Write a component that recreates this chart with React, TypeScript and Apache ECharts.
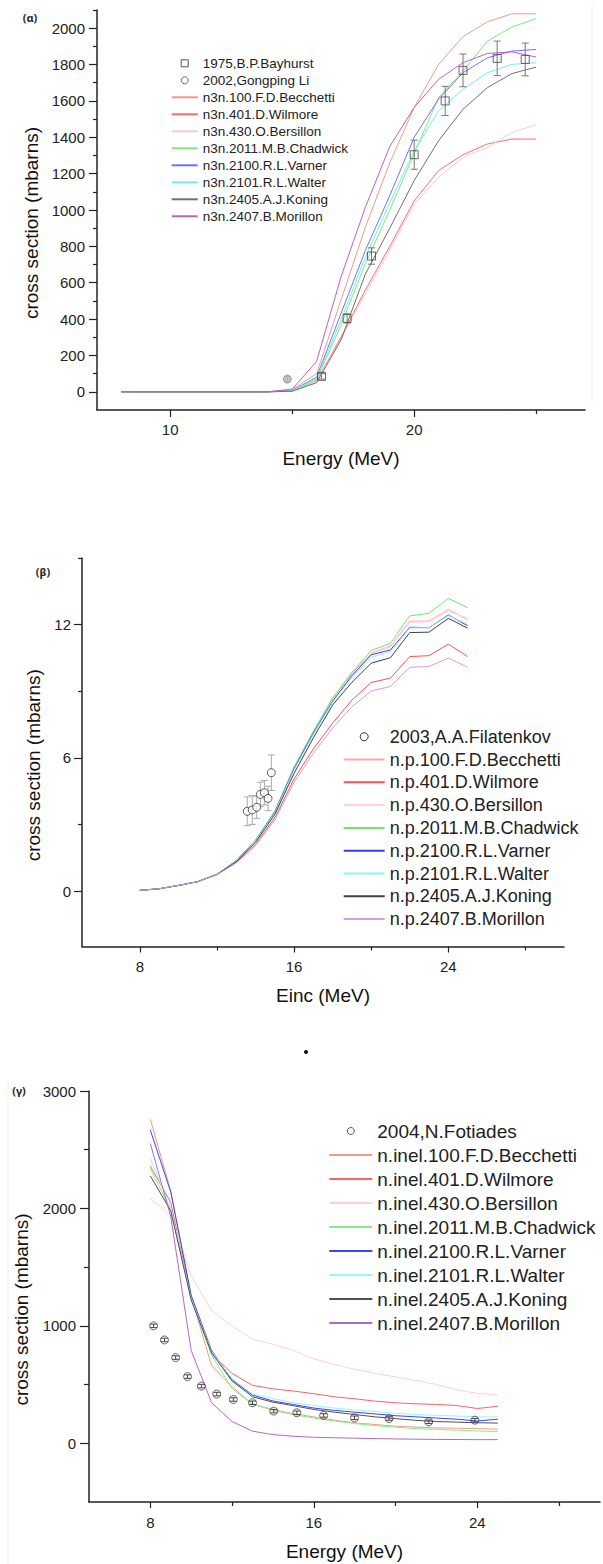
import React, { useEffect, useRef } from "react";
import * as echarts from "echarts";

const FONT = "'Liberation Sans', Arial, Helvetica, sans-serif";

// ---------- (α) (n,3n) cross sections ----------
const energyA = [8, 9, 10, 11, 12, 13, 14, 15, 16, 17, 18, 19, 20, 21, 22, 23, 24, 25];
const n3nBecchetti = [0, 0, 0, 0, 0, 0, 0, 12, 100, 504, 906, 1260, 1564, 1801, 1953, 2035, 2079, 2079];
const n3nWilmore = [0, 0, 0, 0, 0, 0, 0, 5, 60, 300, 560, 800, 1050, 1217, 1304, 1363, 1390, 1390];
const n3nBersillon = [0, 0, 0, 0, 0, 0, 0, 5, 58, 290, 540, 780, 1030, 1180, 1290, 1344, 1427, 1469];
const n3nChadwick = [0, 0, 0, 0, 0, 0, 0, 5, 65, 367, 705, 1000, 1310, 1619, 1764, 1929, 2006, 2053];
const n3nVarner = [0, 0, 0, 0, 0, 0, 0, 8, 80, 431, 778, 1080, 1400, 1610, 1755, 1837, 1874, 1883];
const n3nWalter = [0, 0, 0, 0, 0, 0, 0, 7, 72, 395, 741, 1040, 1326, 1545, 1664, 1755, 1801, 1810];
const n3nKoning = [0, 0, 0, 0, 0, 0, 0, 3, 50, 285, 648, 900, 1162, 1381, 1554, 1673, 1750, 1786];
const n3nMorillon = [0, 0, 0, 0, 0, 0, 0, 15, 167, 632, 1015, 1350, 1564, 1719, 1810, 1861, 1870, 1841];

const bayhurstE = [16.2, 17.25, 18.25, 20.0, 21.27, 22.0, 23.4, 24.55];
const bayhurstXS = [85, 404, 747, 1304, 1600, 1768, 1834, 1828];
const bayhurstErr = [15, 25, 45, 80, 80, 90, 95, 90];
const liE = [14.8];
const liXS = [70];
const liErr = [15];

const namesA = [
  "n3n.100.F.D.Becchetti",
  "n3n.401.D.Wilmore",
  "n3n.430.O.Bersillon",
  "n3n.2011.M.B.Chadwick",
  "n3n.2100.R.L.Varner",
  "n3n.2101.R.L.Walter",
  "n3n.2405.A.J.Koning",
  "n3n.2407.B.Morillon",
];
const curvesA = [n3nBecchetti, n3nWilmore, n3nBersillon, n3nChadwick, n3nVarner, n3nWalter, n3nKoning, n3nMorillon];
const colorsA = ["#f2998a", "#ff6a6a", "#ffc8d0", "#7ee87e", "#7070ff", "#70eeee", "#707070", "#b863c4"];

// ---------- (β) (n,p) cross sections ----------
const energyB = [8, 9, 10, 11, 12, 13, 14, 15, 16, 17, 18, 19, 20, 21, 22, 23, 24, 25];
const npBecchetti = [0.03, 0.1, 0.25, 0.42, 0.75, 1.36, 2.28, 3.55, 5.55, 7.15, 8.65, 9.8, 10.71, 11.04, 12.16, 12.16, 12.69, 12.21];
const npWilmore = [0.03, 0.1, 0.25, 0.42, 0.74, 1.28, 2.1, 3.3, 5.05, 6.4, 7.56, 8.6, 9.39, 9.59, 10.56, 10.6, 11.12, 10.56];
const npBersillon = [0.03, 0.1, 0.25, 0.42, 0.74, 1.33, 2.2, 3.45, 5.45, 7.05, 8.55, 9.7, 10.68, 11.0, 12.1, 12.12, 12.6, 12.3];
const npChadwick = [0.03, 0.1, 0.25, 0.42, 0.75, 1.38, 2.3, 3.6, 5.6, 7.2, 8.7, 9.85, 10.83, 11.16, 12.39, 12.51, 13.18, 12.76];
const npVarner = [0.03, 0.1, 0.25, 0.42, 0.75, 1.36, 2.28, 3.55, 5.5, 7.1, 8.55, 9.7, 10.64, 10.86, 11.88, 11.86, 12.43, 11.95];
const npWalter = [0.03, 0.1, 0.25, 0.42, 0.75, 1.36, 2.28, 3.52, 5.45, 7.05, 8.5, 9.62, 10.53, 10.78, 11.85, 11.86, 12.4, 12.02];
const npKoning = [0.03, 0.1, 0.25, 0.42, 0.74, 1.32, 2.2, 3.45, 5.3, 6.9, 8.38, 9.4, 10.26, 10.51, 11.64, 11.66, 12.28, 11.84];
const npMorillon = [0.03, 0.1, 0.25, 0.42, 0.73, 1.26, 2.05, 3.2, 4.9, 6.2, 7.34, 8.3, 9.01, 9.21, 10.08, 10.11, 10.49, 10.08];

const filatenkovE = [13.57, 13.83, 14.06, 14.25, 14.46, 14.65, 14.82];
const filatenkovXS = [3.59, 3.65, 3.77, 4.35, 4.43, 4.17, 5.33];
const filatenkovErr = [0.65, 0.65, 0.5, 0.55, 0.55, 0.55, 0.8];

const namesB = [
  "n.p.100.F.D.Becchetti",
  "n.p.401.D.Wilmore",
  "n.p.430.O.Bersillon",
  "n.p.2011.M.B.Chadwick",
  "n.p.2100.R.L.Varner",
  "n.p.2101.R.L.Walter",
  "n.p.2405.A.J.Koning",
  "n.p.2407.B.Morillon",
];
const curvesB = [npBecchetti, npWilmore, npBersillon, npChadwick, npVarner, npWalter, npKoning, npMorillon];
const colorsB = ["#ffa8a8", "#ff5050", "#ffd4d8", "#6fe46f", "#3838ff", "#8cf6f6", "#404040", "#d0a0e0"];

// ---------- (γ) inelastic cross sections ----------
const energyC = [8, 9, 10, 11, 12, 13, 14, 15, 16, 17, 18, 19, 20, 21, 22, 23, 24, 25];
const inelBecchetti = [2758, 2150, 1250, 660, 482, 330, 288, 251, 225, 197, 174, 160, 145, 138, 131, 128, 125, 120];
const inelWilmore = [2360, 2050, 1240, 760, 596, 493, 464, 445, 422, 396, 379, 359, 345, 336, 331, 322, 296, 315];
const inelBersillon = [2083, 1940, 1430, 1128, 1000, 886, 844, 790, 720, 670, 630, 595, 565, 535, 500, 455, 425, 415];
const inelChadwick = [2339, 1990, 1230, 750, 464, 336, 280, 245, 215, 190, 168, 150, 137, 125, 118, 112, 105, 100];
const inelVarner = [2667, 2140, 1260, 790, 540, 410, 360, 330, 300, 280, 265, 250, 235, 225, 215, 205, 190, 205];
const inelWalter = [2425, 2000, 1230, 780, 550, 420, 380, 345, 322, 300, 285, 270, 255, 245, 238, 232, 225, 225];
const inelKoning = [2277, 1980, 1220, 770, 530, 396, 350, 320, 288, 265, 245, 225, 210, 195, 185, 180, 175, 172];
const inelMorillon = [2553, 1930, 790, 345, 185, 103, 74, 60, 51, 47, 43, 40, 37, 35, 33, 32, 31, 31];

const fotiadesE = [8.16, 8.69, 9.24, 9.82, 10.5, 11.25, 12.06, 13.0, 14.04, 15.17, 16.48, 17.99, 19.68, 21.62, 23.88];
const fotiadesXS = [1000, 880, 730, 568, 487, 419, 373, 345, 274, 260, 237, 217, 211, 183, 197];
const fotiadesErr = [15, 15, 15, 15, 15, 15, 15, 15, 15, 15, 15, 15, 15, 15, 15];

const namesC = [
  "n.inel.100.F.D.Becchetti",
  "n.inel.401.D.Wilmore",
  "n.inel.430.O.Bersillon",
  "n.inel.2011.M.B.Chadwick",
  "n.inel.2100.R.L.Varner",
  "n.inel.2101.R.L.Walter",
  "n.inel.2405.A.J.Koning",
  "n.inel.2407.B.Morillon",
];
const curvesC = [inelBecchetti, inelWilmore, inelBersillon, inelChadwick, inelVarner, inelWalter, inelKoning, inelMorillon];
const colorsC = ["#f59a85", "#ff6262", "#ffd0da", "#86ec86", "#4040ff", "#98f6f6", "#505050", "#b468c2"];

// ---------- axis tick positions ----------
const xMajorA = [10, 20];
const xMinorA = [15, 25];
const yMajorA = [0, 200, 400, 600, 800, 1000, 1200, 1400, 1600, 1800, 2000];
const yMinorA = [100, 300, 500, 700, 900, 1100, 1300, 1500, 1700, 1900, 2100];
const xMajorB = [8, 16, 24];
const xMinorB = [12, 20, 28];
const yMajorB = [0, 6, 12];
const yMinorB = [3, 9, 15];
const xMajorC = [8, 16, 24];
const xMinorC = [12, 20, 28];
const yMajorC = [0, 1000, 2000, 3000];
const yMinorC = [500, 1500, 2500];

const INK = "#222";
const SQUARE_ICON = "path://M0 0H10V10H0Z";

function pairs(xs: number[], ys: number[]) {
  return xs.map((x, i) => [x, ys[i]]);
}
function bars(xs: number[], ys: number[], errs: number[]) {
  return xs.map((x, i) => [x, ys[i] - errs[i], ys[i] + errs[i]]);
}

function mainAxis(o: any) {
  return {
    type: "value",
    gridIndex: o.grid,
    min: o.min,
    max: o.max,
    position: o.pos,
    axisLine: { show: true, onZero: false, lineStyle: { color: INK, width: 1.5 } },
    axisTick: { show: true, inside: false, length: o.tickLen, customValues: o.major, lineStyle: { color: INK, width: 1.2 } },
    axisLabel: {
      show: true,
      customValues: o.major,
      margin: o.margin,
      color: INK,
      fontSize: 15,
      fontFamily: FONT,
      formatter: (v: number) => String(v),
    },
    splitLine: { show: false },
    name: o.name,
    nameLocation: "middle",
    nameGap: o.nameGap,
    nameTextStyle: { color: "#111", fontSize: 19, fontFamily: FONT, padding: o.namePad || 0 },
  };
}
function minorAxis(o: any) {
  return {
    type: "value",
    gridIndex: o.grid,
    min: o.min,
    max: o.max,
    position: o.pos,
    axisLine: { show: false, onZero: false },
    axisTick: { show: true, inside: false, length: o.tickLen, customValues: o.minor, lineStyle: { color: INK, width: 1.2 } },
    axisLabel: { show: false },
    splitLine: { show: false },
  };
}

function errorBars(axis: number, data: number[][], color: string, cap: number) {
  return {
    type: "custom",
    xAxisIndex: axis,
    yAxisIndex: axis,
    data,
    encode: { x: 0, y: [1, 2] },
    silent: true,
    z: 3,
    renderItem: (_params: any, api: any) => {
      const x = api.value(0);
      const lo = api.coord([x, api.value(1)]);
      const hi = api.coord([x, api.value(2)]);
      const st = { stroke: color, lineWidth: 1 };
      const h = cap / 2;
      return {
        type: "group",
        children: [
          { type: "line", shape: { x1: lo[0], y1: lo[1], x2: hi[0], y2: hi[1] }, style: st },
          { type: "line", shape: { x1: lo[0] - h, y1: lo[1], x2: lo[0] + h, y2: lo[1] }, style: st },
          { type: "line", shape: { x1: hi[0] - h, y1: hi[1], x2: hi[0] + h, y2: hi[1] }, style: st },
        ],
      };
    },
  };
}

function modelLines(axis: number, energy: number[], curves: number[][], names: string[], colors: string[]) {
  return curves.map((vals, i) => ({
    type: "line",
    name: names[i],
    xAxisIndex: axis,
    yAxisIndex: axis,
    data: pairs(energy, vals),
    symbol: "none",
    color: colors[i],
    lineStyle: { color: colors[i], width: 1 },
    z: 2,
  }));
}

// line-only legend entries: hide the marker that the line icon carries
const lineEntry = (name: string) => ({ name, itemStyle: { opacity: 0 } });

function legendBlock(left: number, top: number, w: number, h: number, fs: number, lh: number, data: any[]) {
  return {
    orient: "vertical",
    left,
    top,
    padding: 0,
    itemGap: 0,
    itemWidth: w,
    itemHeight: h,
    symbolKeepAspect: true,
    selectedMode: false,
    textStyle: { fontFamily: FONT, fontSize: fs, lineHeight: lh, color: INK },
    data,
  };
}

function buildOption() {
  const xAxis = [
    mainAxis({ grid: 0, min: 7, max: 27, pos: "bottom", tickLen: 7, major: xMajorA, margin: 12, name: "Energy (MeV)", nameGap: 39 }),
    minorAxis({ grid: 0, min: 7, max: 27, pos: "bottom", tickLen: 4, minor: xMinorA }),
    mainAxis({ grid: 1, min: 5, max: 30, pos: "bottom", tickLen: 6, major: xMajorB, margin: 12, name: "Einc (MeV)", nameGap: 39 }),
    minorAxis({ grid: 1, min: 5, max: 30, pos: "bottom", tickLen: 4, minor: xMinorB }),
    mainAxis({ grid: 2, min: 5, max: 30, pos: "bottom", tickLen: 6, major: xMajorC, margin: 13, name: "Energy (MeV)", nameGap: 40 }),
    minorAxis({ grid: 2, min: 5, max: 30, pos: "bottom", tickLen: 4, minor: xMinorC }),
  ];
  const yAxis = [
    mainAxis({ grid: 0, min: -100, max: 2100, pos: "left", tickLen: 8, major: yMajorA, margin: 12, name: "cross section (mbarns)", nameGap: 55, namePad: [0, 26, 0, 0] }),
    minorAxis({ grid: 0, min: -100, max: 2100, pos: "left", tickLen: 4, minor: yMinorA }),
    mainAxis({ grid: 1, min: -2.5, max: 15, pos: "left", tickLen: 8, major: yMajorB, margin: 11, name: "cross section (mbarns)", nameGap: 37, namePad: [0, 26, 0, 0] }),
    minorAxis({ grid: 1, min: -2.5, max: 15, pos: "left", tickLen: 4, minor: yMinorB }),
    mainAxis({ grid: 2, min: -500, max: 3000, pos: "left", tickLen: 9, major: yMajorC, margin: 13, name: "cross section (mbarns)", nameGap: 58, namePad: [0, 26, 0, 0] }),
    minorAxis({ grid: 2, min: -500, max: 3000, pos: "left", tickLen: 5, minor: yMinorC }),
  ];

  const series: any[] = [
    ...modelLines(0, energyA, curvesA, namesA, colorsA),
    errorBars(0, bars(bayhurstE, bayhurstXS, bayhurstErr), "#777", 7),
    errorBars(0, bars(liE, liXS, liErr), "#888", 6),
    {
      type: "scatter",
      name: "1975,B.P.Bayhurst",
      xAxisIndex: 0,
      yAxisIndex: 0,
      data: pairs(bayhurstE, bayhurstXS),
      symbol: "rect",
      symbolSize: 8,
      itemStyle: { color: "rgba(255,255,255,0)", borderColor: "#444", borderWidth: 1 },
      z: 4,
    },
    {
      type: "scatter",
      name: "2002,Gongping Li",
      xAxisIndex: 0,
      yAxisIndex: 0,
      data: pairs(liE, liXS),
      symbol: "circle",
      symbolSize: 8,
      itemStyle: { color: "#b8b8b8", borderColor: "#8a8a8a", borderWidth: 1 },
      z: 4,
    },
    ...modelLines(2, energyB, curvesB, namesB, colorsB),
    errorBars(2, bars(filatenkovE, filatenkovXS, filatenkovErr), "#aaa", 7),
    {
      type: "scatter",
      name: "2003,A.A.Filatenkov",
      xAxisIndex: 2,
      yAxisIndex: 2,
      data: pairs(filatenkovE, filatenkovXS),
      symbol: "circle",
      symbolSize: 8,
      itemStyle: { color: "#fff", borderColor: "#333", borderWidth: 1 },
      z: 4,
    },
    ...modelLines(4, energyC, curvesC, namesC, colorsC),
    errorBars(4, bars(fotiadesE, fotiadesXS, fotiadesErr), "#444", 7),
    {
      type: "scatter",
      name: "2004,N.Fotiades",
      xAxisIndex: 4,
      yAxisIndex: 4,
      data: pairs(fotiadesE, fotiadesXS),
      symbol: "circle",
      symbolSize: 8,
      itemStyle: { color: "rgba(255,255,255,0)", borderColor: "#444", borderWidth: 1 },
      z: 4,
    },
  ];

  const openMark = (name: string, border: string, icon: string) => ({
    name,
    icon,
    itemStyle: { color: "#fff", borderColor: border, borderWidth: 1, opacity: 1 },
  });

  const legend = [
    legendBlock(170.7, 54.8, 26, 7, 13.5, 17, [
      openMark("1975,B.P.Bayhurst", "#555", SQUARE_ICON),
      openMark("2002,Gongping Li", "#666", "circle"),
      ...namesA.map(lineEntry),
    ]),
    legendBlock(342.7, 725.3, 41, 8, 18, 22.8, [openMark("2003,A.A.Filatenkov", "#333", "circle"), ...namesB.map(lineEntry)]),
    legendBlock(328.3, 1119, 43, 7, 19, 24, [openMark("2004,N.Fotiades", "#555", "circle"), ...namesC.map(lineEntry)]),
  ];

  const tag = (text: string, x: number, y: number) => ({
    type: "text",
    x,
    y,
    style: { text, font: "bold 11px 'Noto Sans', 'DejaVu Sans', sans-serif", fill: "#2a2a2a", textAlign: "center", textVerticalAlign: "middle" },
  });

  const graphic = [
    tag("(α)", 30, 17),
    tag("(β)", 43, 571),
    tag("(γ)", 19, 1090),
    { type: "circle", shape: { cx: 306, cy: 1052, r: 2 }, style: { fill: "#111" } },
    { type: "line", shape: { x1: 592, y1: 4, x2: 592, y2: 402 }, style: { stroke: "#eeeeee", lineWidth: 1 } },
    { type: "line", shape: { x1: 8, y1: 1082, x2: 8, y2: 1564 }, style: { stroke: "#eeeeee", lineWidth: 1 } },
  ];

  return {
    animation: false,
    backgroundColor: "#fff",
    textStyle: { fontFamily: FONT },
    grid: [
      { left: 97, top: 10, width: 488, height: 400, containLabel: false, outerBoundsMode: "none" },
      { left: 82, top: 558, width: 482, height: 388.5, containLabel: false, outerBoundsMode: "none" },
      { left: 89, top: 1091, width: 511, height: 411, containLabel: false, outerBoundsMode: "none" },
    ],
    xAxis,
    yAxis,
    legend,
    series,
    graphic,
  };
}

export default function App() {
  const ref = useRef<HTMLDivElement>(null);
  useEffect(() => {
    if (!ref.current) return;
    const chart = echarts.init(ref.current, null, { renderer: "svg", width: 603, height: 1564 });
    chart.setOption(buildOption() as any);
    return () => {
      chart.dispose();
    };
  }, []);
  return (
    <div
      ref={ref}
      style={{ position: "absolute", left: 0, top: 0, width: 603, height: 1564, background: "#fff" }}
    />
  );
}
